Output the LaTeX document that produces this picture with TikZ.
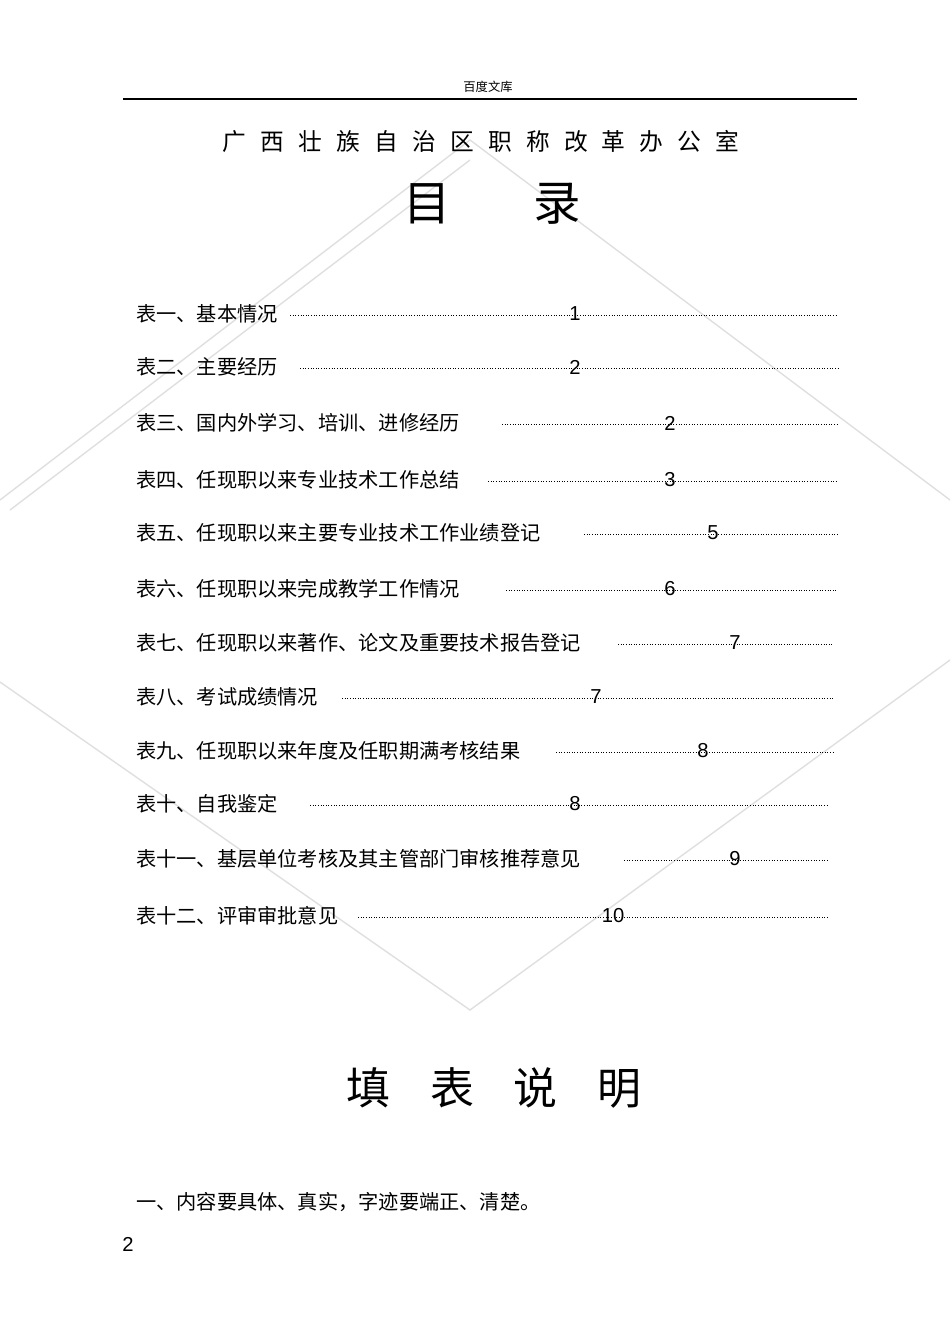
\documentclass[tikz,border=0pt]{standalone}
\usepackage{fontspec}
\newfontfamily\cjk{Noto Sans CJK SC}
\setmainfont{Liberation Sans}
\begin{document}
\begin{tikzpicture}[x=0.02cm,y=-0.02cm,
  entry/.style={anchor=west,font=\cjk\fontsize{11.5}{13}\selectfont,inner sep=0},
  num/.style={font=\fontsize{11.5}{13}\selectfont,inner sep=0},
  lead/.style={densely dotted,line width=0.5pt},
  wm/.style={gray!25,line width=0.8pt}]
\useasboundingbox (0,0) rectangle (950,1341);
% watermark
\draw[wm] (0,500) -- (470,140) -- (950,500);
\draw[wm] (0,682) -- (470,1010) -- (950,660);
\draw[wm] (10,510) -- (470,160);
\node[font=\cjk\fontsize{7}{8}\selectfont] (hdr) at (488,87) {百度文库};
\draw[line width=0.8pt] (123,99) -- (857,99);
\node[font=\cjk\fontsize{13.5}{16}\selectfont] (org) at (481,141) {广\hspace{0.6em}西\hspace{0.6em}壮\hspace{0.6em}族\hspace{0.6em}自\hspace{0.6em}治\hspace{0.6em}区\hspace{0.6em}职\hspace{0.6em}称\hspace{0.6em}改\hspace{0.6em}革\hspace{0.6em}办\hspace{0.6em}公\hspace{0.6em}室};
\node[font=\cjk\fontsize{27}{30}\selectfont] (t1) at (427,204) {目};
\node[font=\cjk\fontsize{27}{30}\selectfont] (t2) at (557,204) {录};
\foreach \y/\txt/\xs/\xe/\xn/\n in {
 314/表一、基本情况/290/838/575/1,
 367/表二、主要经历/300/838/575/2,
 423/表三、国内外学习、培训、进修经历/502/838/670/2,
 480/表四、任现职以来专业技术工作总结/488/838/670/3,
 533/表五、任现职以来主要专业技术工作业绩登记/584/838/713/5,
 589/表六、任现职以来完成教学工作情况/506/838/670/6,
 643/表七、任现职以来著作、论文及重要技术报告登记/618/833/735/7,
 697/表八、考试成绩情况/342/833/596/7,
 751/表九、任现职以来年度及任职期满考核结果/556/833/703/8,
 804/表十、自我鉴定/310/828/575/8,
 859/表十一、基层单位考核及其主管部门审核推荐意见/624/828/735/9,
 916/表十二、评审审批意见/358/828/613/10}{
 \node[entry] at (136,\y) {\txt};
 \draw[lead] (\xs,\y+1) -- (\xe,\y+1);
 \node[num] at (\xn,\y) {\n};
}
\node[font=\cjk\fontsize{25}{30}\selectfont] (f) at (494,1088) {填\hspace{0.9em}表\hspace{0.9em}说\hspace{0.9em}明};
\node[entry] (l1) at (136,1202) {一、内容要具体、真实，字迹要端正、清楚。};
\node[num] (pg) at (128,1244) {2};
\end{tikzpicture}
\end{document}
